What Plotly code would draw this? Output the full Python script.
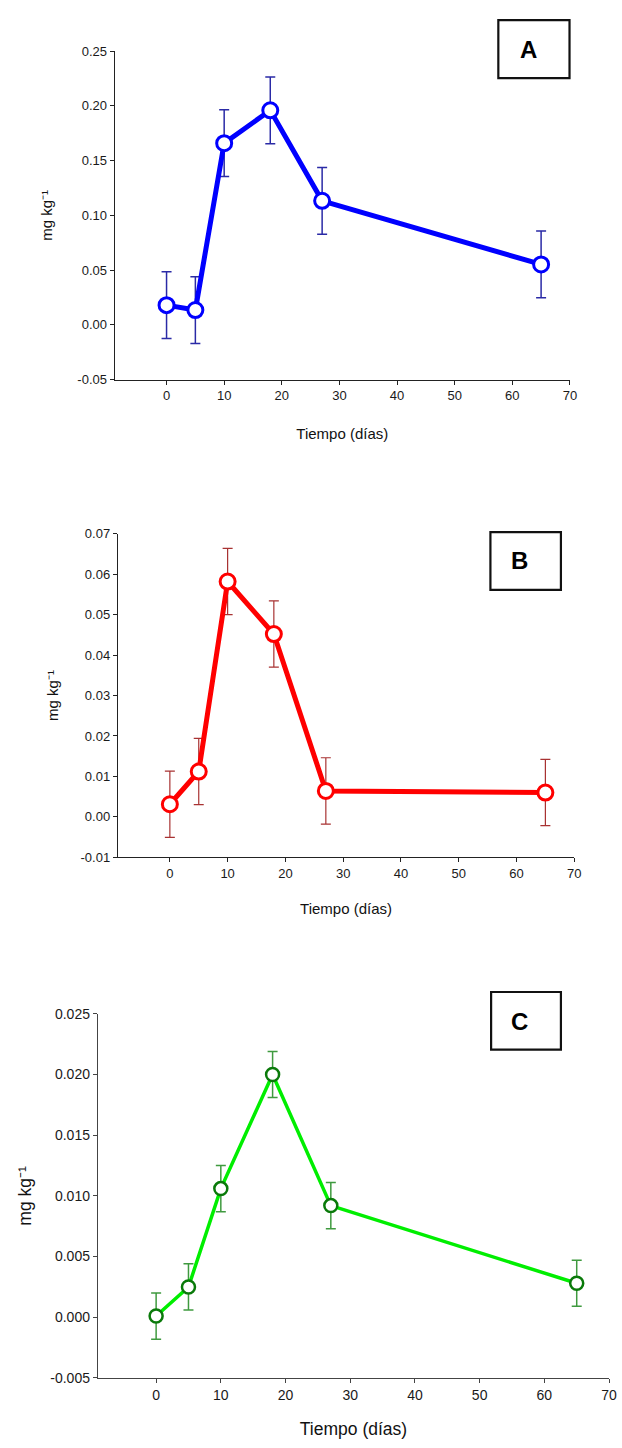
import plotly.graph_objects as go

# Sampling days
dias = [0, 5, 10, 18, 27, 65]

# Panel A (blue)
valores_a = [0.018, 0.0135, 0.166, 0.196, 0.1133, 0.0552]
error_a = [0.0305, 0.0305, 0.0305, 0.0305, 0.0305, 0.0305]

# Panel B (red)
valores_b = [0.0031, 0.0112, 0.0582, 0.0452, 0.0064, 0.0060]
error_b = [0.0082, 0.0082, 0.0082, 0.0082, 0.0082, 0.0082]

# Panel C (green)
valores_c = [0.0001, 0.0025, 0.0106, 0.0200, 0.0092, 0.0028]
error_c = [0.0019, 0.0019, 0.0019, 0.0019, 0.0019, 0.0019]

# Tick values / labels
x_ticks = [0, 10, 20, 30, 40, 50, 60, 70]
y_ticks_a = [-0.05, 0.00, 0.05, 0.10, 0.15, 0.20, 0.25]
y_labels_a = ["-0.05", "0.00", "0.05", "0.10", "0.15", "0.20", "0.25"]
y_ticks_b = [-0.01, 0.00, 0.01, 0.02, 0.03, 0.04, 0.05, 0.06, 0.07]
y_labels_b = ["-0.01", "0.00", "0.01", "0.02", "0.03", "0.04", "0.05", "0.06", "0.07"]
y_ticks_c = [-0.005, 0.000, 0.005, 0.010, 0.015, 0.020, 0.025]
y_labels_c = ["-0.005", "0.000", "0.005", "0.010", "0.015", "0.020", "0.025"]

W, H = 622, 1448
FONT = "Liberation Sans, Arial, sans-serif"
Y_TITLE = "mg kg\u207b\u00b9"
X_TITLE = "Tiempo (días)"


def px_x(p):
    return p / W


def px_y(p):
    return 1 - p / H


fig = go.Figure()

panels = [
    dict(vals=valores_a, err=error_a, line="#0000ff", mcol="#0000ff", err_col="#2a2aa6",
         lw=5, ms=15, mlw=3, ew=1.5, xdom=(116, 576.4), ydom=(43.7, 375.7), yr=(-0.05, 0.25),
         yt=y_ticks_a, yl=y_labels_a, tick_fs=13, title_fs=15, axis_col="#222222",
         xstand=26, ystand=21, box=(504, 12.3, 576, 71), letter="A", lpos=(535, 42)),
    dict(vals=valores_b, err=error_b, line="#ff0000", mcol="#ff0000", err_col="#a83232",
         lw=5, ms=15, mlw=3, ew=1.2, xdom=(119.2, 580.8), ydom=(531.7, 858.7), yr=(-0.01, 0.07),
         yt=y_ticks_b, yl=y_labels_b, tick_fs=13, title_fs=15, axis_col="#222222",
         xstand=23, ystand=18, box=(496, 530, 567.3, 588.3), letter="B", lpos=(525, 559)),
    dict(vals=valores_c, err=error_c, line="#00ee00", mcol="#0a7a0a", err_col="#3f9a3f",
         lw=3.5, ms=13, mlw=2.5, ew=1.5, xdom=(99, 616), ydom=(1017, 1385.3), yr=(-0.005, 0.025),
         yt=y_ticks_c, yl=y_labels_c, tick_fs=14, title_fs=17.5, axis_col="#444444",
         xstand=20, ystand=14, box=(496.7, 995, 567.3, 1053.3), letter="C", lpos=(525.5, 1025)),
]

for i, p in enumerate(panels, start=1):
    xa = "x" if i == 1 else f"x{i}"
    ya = "y" if i == 1 else f"y{i}"
    fig.add_trace(go.Scatter(
        x=dias, y=p["vals"], xaxis=xa, yaxis=ya, mode="lines+markers",
        line=dict(color=p["line"], width=p["lw"]),
        marker=dict(symbol="circle", size=p["ms"], color="white",
                    line=dict(color=p["mcol"], width=p["mlw"])),
        error_y=dict(type="data", array=p["err"], visible=True,
                     color=p["err_col"], thickness=p["ew"], width=5),
        showlegend=False,
    ))

    title_font = dict(family=FONT, size=p["title_fs"], color="#111111")
    xkey = "xaxis" if i == 1 else f"xaxis{i}"
    ykey = "yaxis" if i == 1 else f"yaxis{i}"
    fig.update_layout({
        xkey: dict(
            domain=[px_x(p["xdom"][0]), px_x(p["xdom"][1])],
            anchor=ya, range=[-9, 70], tickvals=x_ticks,
            ticks="outside", ticklen=4, tickwidth=1, tickcolor=p["axis_col"],
            showline=True, linecolor=p["axis_col"], linewidth=1.2,
            showgrid=False, zeroline=False,
            tickfont=dict(family=FONT, size=p["tick_fs"], color="#1a1a1a"),
            title=dict(text=X_TITLE, font=title_font, standoff=p["xstand"]),
        ),
        ykey: dict(
            domain=[px_y(p["ydom"][1]), px_y(p["ydom"][0])],
            anchor=xa, range=list(p["yr"]), tickvals=p["yt"], ticktext=p["yl"],
            ticks="outside", ticklen=4, tickwidth=1, tickcolor=p["axis_col"],
            showline=True, linecolor=p["axis_col"], linewidth=1.2,
            showgrid=False, zeroline=False,
            tickfont=dict(family=FONT, size=p["tick_fs"], color="#1a1a1a"),
            title=dict(text=Y_TITLE, font=title_font, standoff=p["ystand"]),
        ),
    })

    # Panel label box
    x0, y0, x1, y1 = p["box"]
    fig.add_shape(type="rect", xref="paper", yref="paper",
                  x0=px_x(x0), x1=px_x(x1), y0=px_y(y1), y1=px_y(y0),
                  line=dict(color="#111111", width=2.2), fillcolor="white")
    fig.add_annotation(x=px_x(p["lpos"][0]), y=px_y(p["lpos"][1]), xref="paper", yref="paper",
                       text=p["letter"], showarrow=False,
                       xanchor="center", yanchor="middle",
                       font=dict(family=FONT, size=24, color="#000000", weight="bold"))

fig.update_layout(
    width=W, height=H,
    margin=dict(l=0, r=0, t=0, b=0),
    paper_bgcolor="white", plot_bgcolor="white",
)

fig.write_html("out.html")
